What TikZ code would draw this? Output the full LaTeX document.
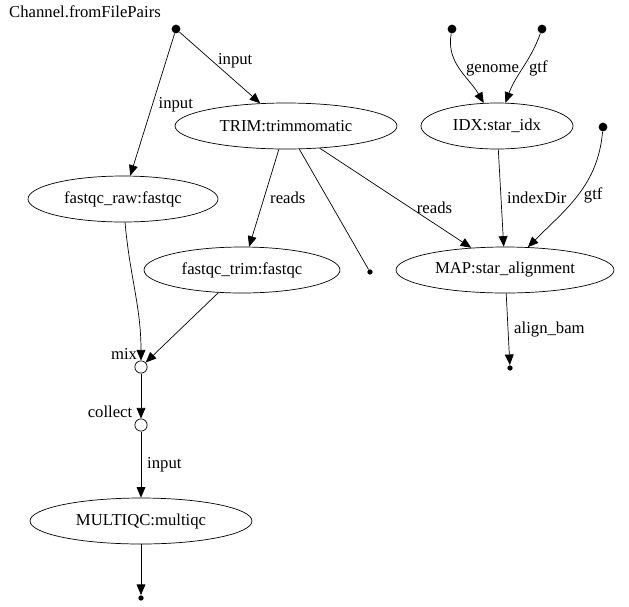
\documentclass[tikz,border=0pt]{standalone}
\usepackage{fontspec}
\setmainfont{Liberation Serif}
\usetikzlibrary{arrows.meta,shapes.geometric}
\begin{document}
\begin{tikzpicture}[x=0.02cm,y=-0.02cm,font=\fontsize{9.5}{11}\selectfont,
  proc/.style={draw,ellipse,minimum height=0.92cm,inner sep=0pt},
  dot/.style={circle,fill,inner sep=0pt,minimum size=5pt},
  sdot/.style={circle,fill,inner sep=0pt,minimum size=3pt},
  op/.style={circle,draw,inner sep=0pt,minimum size=7pt},
  >={Triangle[length=6pt,width=5pt]}]
\useasboundingbox (0,0) rectangle (629,606);
\node[dot] (src) at (176,29) {};
\node at (85,12) {Channel.fromFilePairs};
\node[dot] (gen) at (452,29) {};
\node[dot] (gtfa) at (542,29) {};
\node[dot] (gtfb) at (603,127) {};
\node[proc,minimum width=4.44cm] (trim) at (286,126) {TRIM:trimmomatic};
\node[proc,minimum width=3.04cm] (idx) at (497,126) {IDX:star\_idx};
\node[proc,minimum width=3.8cm] (raw) at (123,199) {fastqc\_raw:fastqc};
\node[proc,minimum width=3.92cm] (ftrim) at (242,270) {fastqc\_trim:fastqc};
\node[sdot] (trimend) at (370,272) {};
\node[proc,minimum width=4.36cm] (map) at (505,270) {MAP:star\_alignment};
\node[sdot] (mapend) at (510,368) {};
\node[op] (mix) at (141,367) {};
\node at (124,354) {mix};
\node[op] (col) at (141,425) {};
\node at (110,412) {collect};
\node[proc,minimum width=4.44cm] (mqc) at (141,521) {MULTIQC:multiqc};
\node[sdot] (mqcend) at (141,598) {};
% edges
\draw[->] (src) -- node[right] {input} (raw);
\draw[->] (src) -- node[right,pos=0.4] {input} (trim);
\draw[->] (gen) to[out=-100,in=120] node[right,pos=0.5] {genome} (idx);
\draw[->] (gtfa) to[out=-110,in=70] node[right,pos=0.5] {gtf} (idx);
\draw[->] (trim) -- node[right] {reads} (ftrim);
\draw (trim) -- (trimend);
\draw[->] (trim) -- node[right,pos=0.6] {reads} (map);
\draw[->] (idx) -- node[right] {indexDir} (map);
\draw[->] (gtfb) to[out=-95,in=45] node[right,pos=0.5] {gtf} (map);
\draw[->] (map) -- node[right,pos=0.5] {align\_bam} (mapend);
\draw[->] (raw) to[out=-85,in=90] (mix);
\draw[->] (ftrim) -- (mix);
\draw[->] (mix) -- (col);
\draw[->] (col) -- node[right] {input} (mqc);
\draw[->] (mqc) -- (mqcend);
\end{tikzpicture}
\end{document}
